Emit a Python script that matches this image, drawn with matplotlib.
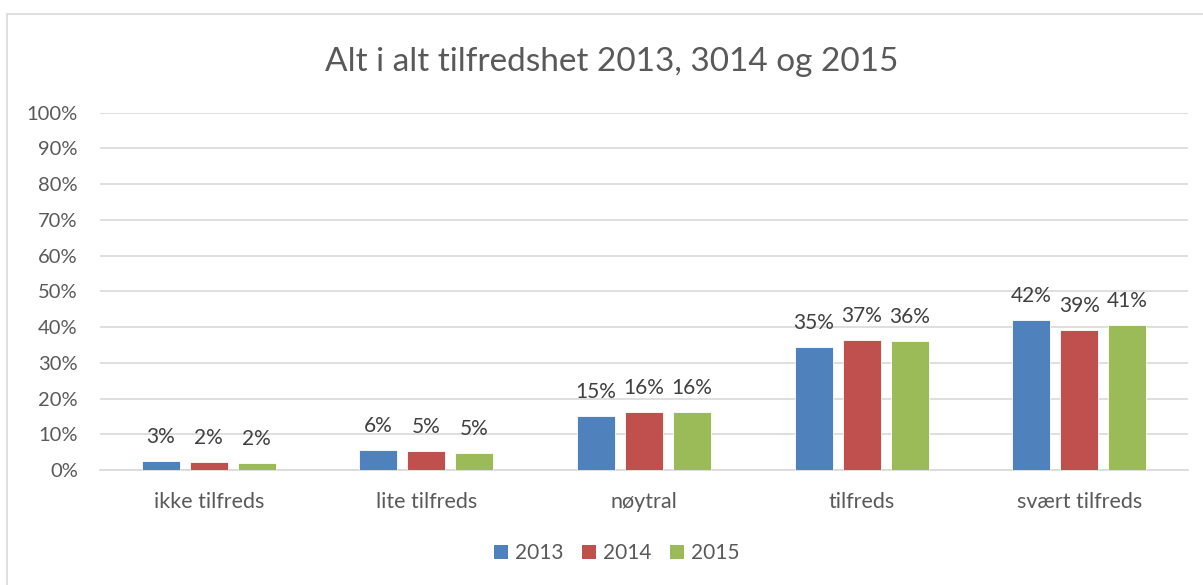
import matplotlib
matplotlib.use("Agg")
import matplotlib.pyplot as plt
import numpy as np
from matplotlib.patches import Rectangle, Patch

plt.rcParams['font.family'] = ['Lato', 'DejaVu Sans']

categories = ["ikke tilfreds", "lite tilfreds", "nøytral", "tilfreds", "svært tilfreds"]
years = ["2013", "2014", "2015"]
v2013 = [2.6, 5.6, 15.0, 34.4, 42.1]
v2014 = [2.3, 5.2, 16.1, 36.5, 39.2]
v2015 = [2.0, 4.7, 16.1, 36.1, 40.6]
labels2013 = ["3%", "6%", "15%", "35%", "42%"]
labels2014 = ["2%", "5%", "16%", "37%", "39%"]
labels2015 = ["2%", "5%", "16%", "36%", "41%"]
colors = ["#4F81BD", "#C0504D", "#9BBB59"]

W, H = 1203, 585
fig = plt.figure(figsize=(W / 100, H / 100), dpi=100)
ax = fig.add_axes([100 / W, 115 / H, 1088 / W, 357.3 / H])

# chart border
fig.patches.append(Rectangle((7 / W, -0.1), 1.2, (H - 14) / H + 0.1, transform=fig.transFigure,
                             fill=False, edgecolor="#D9D9D9", linewidth=1.2))

x = np.arange(len(categories))
bw = 38 / 217.6
step = 48 / 217.6
series = [v2013, v2014, v2015]
lbls = [labels2013, labels2014, labels2015]
for i, (vals, lab) in enumerate(zip(series, lbls)):
    pos = x + (i - 1) * step
    bars = ax.bar(pos, vals, bw, color=colors[i], edgecolor="white", linewidth=0.6, zorder=3)
    for b, t in zip(bars, lab):
        ax.annotate(t, (b.get_x() + b.get_width() / 2, b.get_height()), xytext=(0, 13),
                    textcoords="offset points", ha="center", va="baseline",
                    fontsize=15, color="#404040")

ax.set_xlim(-0.5, len(categories) - 0.5)
ax.set_ylim(0, 100)
ax.set_yticks(np.arange(0, 101, 10))
ax.set_yticklabels([f"{t}%" for t in range(0, 101, 10)], fontsize=14.5, color="#595959")
ax.set_xticks(x)
ax.set_xticklabels(categories, fontsize=15.5, color="#595959")
ax.tick_params(axis="y", length=0, pad=16)
ax.tick_params(axis="x", length=0, pad=16)
ax.grid(axis="y", color="#D9D9D9", linewidth=1.2, zorder=0)
for s in ["top", "right", "left"]:
    ax.spines[s].set_visible(False)
ax.spines["bottom"].set_color("#D9D9D9")
ax.spines["bottom"].set_linewidth(1.2)

fig.text(612 / W, 1 - 62 / H, "Alt i alt tilfredshet 2013, 3014 og 2015", ha="center", va="center",
         fontsize=24, color="#595959")

handles = [Patch(facecolor=c, edgecolor="none") for c in colors]
fig.legend(handles, years, loc="center", bbox_to_anchor=(617 / W, 1 - 553 / H), ncol=3, frameon=False,
           fontsize=15, labelcolor="#595959", handlelength=0.65, handleheight=0.65,
           handletextpad=0.35, columnspacing=0.9)

fig.savefig("out.png", dpi=100)
